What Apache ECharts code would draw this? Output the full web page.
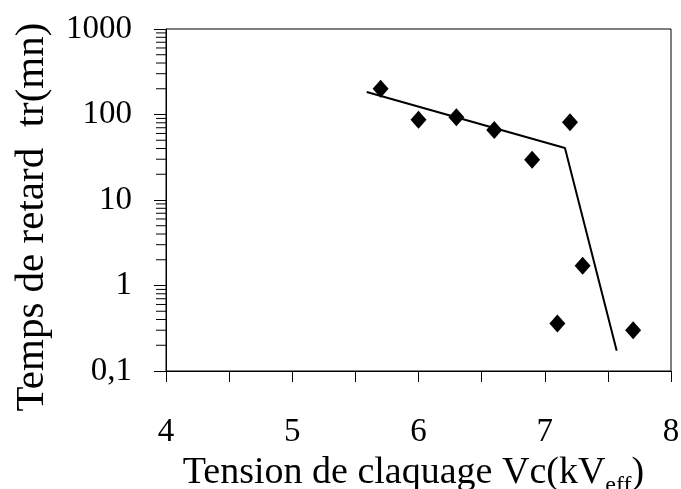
<!DOCTYPE html>
<html><head><meta charset="utf-8">
<script src="https://cdn.jsdelivr.net/npm/echarts@6/dist/echarts.min.js"></script>
<style>html,body{margin:0;padding:0;background:#fff}#c{width:681px;height:489px}</style>
</head><body><div id="c"></div>
<script>
// Measured points
const voltage = [5.7, 6.0, 6.3, 6.6, 6.9, 7.2, 7.3, 7.1, 7.7];
const delay = [200, 87, 93, 66, 29.5, 81, 1.7, 0.36, 0.3];
// Fitted two-segment line
const fitVoltage = [5.59, 7.16, 7.57];
const fitDelay = [183, 40.5, 0.173];
// Axis ticks
const xTickLabels = ['4', '5', '6', '7', '8'];
const yTickValues = [0.1, 1, 10, 100, 1000];
const yTickLabels = ['0,1', '1', '10', '100', '1000'];
const yMinorTicks = [0.2, 0.3, 0.4, 0.5, 0.6, 0.7, 0.8, 0.9,
  2, 3, 4, 5, 6, 7, 8, 9,
  20, 30, 40, 50, 60, 70, 80, 90,
  200, 300, 400, 500, 600, 700, 800, 900];

const FONT = '"Liberation Serif", "DejaVu Serif", serif';
const chart = echarts.init(document.getElementById('c'));
chart.setOption({
  animation: false,
  backgroundColor: '#fff',
  grid: { left: 166, right: 10, top: 29, bottom: 118, outerBoundsMode: 'none', containLabel: false,
    show: true, borderColor: '#000', borderWidth: 1, backgroundColor: 'transparent' },
  xAxis: {
    type: 'value', min: 4, max: 8, interval: 0.5,
    name: 'Tension de claquage Vc(kV{sub|eff})',
    nameLocation: 'middle', nameGap: 71,
    nameTextStyle: {
      fontFamily: FONT, fontSize: 38, color: '#000', padding: [0, 10, 0, 0],
      rich: { sub: { fontFamily: FONT, fontSize: 24, color: '#000', padding: [26, 0, 0, 0] } }
    },
    axisLine: { show: true, lineStyle: { color: '#000', width: 1 } },
    axisTick: { show: true, inside: false, length: 11, lineStyle: { color: '#000' } },
    axisLabel: {
      margin: 45, fontFamily: FONT, fontSize: 33, color: '#000',
      formatter: v => (Number.isInteger(v) ? xTickLabels[xTickLabels.indexOf(String(v))] : '')
    },
    splitLine: { show: false }
  },
  yAxis: {
    type: 'log', logBase: 10, min: 0.1, max: 1000,
    name: 'Temps de retard  tr(mn)',
    nameLocation: 'middle', nameGap: 113, nameRotate: 90,
    nameTextStyle: { fontFamily: FONT, fontSize: 41, color: '#000', padding: [0, 34, 0, 0] },
    axisLine: { show: true, lineStyle: { color: '#000', width: 1 } },
    axisTick: { show: true, inside: false, length: 12, lineStyle: { color: '#000' } },
    axisLabel: {
      margin: 34, fontFamily: FONT, fontSize: 33, color: '#000',
      formatter: v => { const i = yTickValues.findIndex(t => Math.abs(t - v) / t < 1e-6); return i >= 0 ? yTickLabels[i] : ''; }
    },
    splitLine: { show: false }
  },
  series: [
    {
      type: 'custom', silent: true, clip: false,
      data: yMinorTicks.map(v => [4, v]),
      renderItem: (params, api) => {
        const p = api.coord([api.value(0), api.value(1)]);
        return { type: 'line', shape: { x1: p[0] - 10, y1: p[1], x2: p[0], y2: p[1] }, style: { stroke: '#000', lineWidth: 1 } };
      }
    },
    {
      type: 'line', data: fitVoltage.map((x, i) => [x, fitDelay[i]]),
      showSymbol: false, symbol: 'none', lineStyle: { color: '#000', width: 2 }, z: 3
    },
    {
      type: 'scatter', data: voltage.map((x, i) => [x, delay[i]]),
      symbol: 'diamond', symbolSize: [16, 18], itemStyle: { color: '#000', opacity: 1 }, z: 4
    }
  ]
});
</script></body></html>
